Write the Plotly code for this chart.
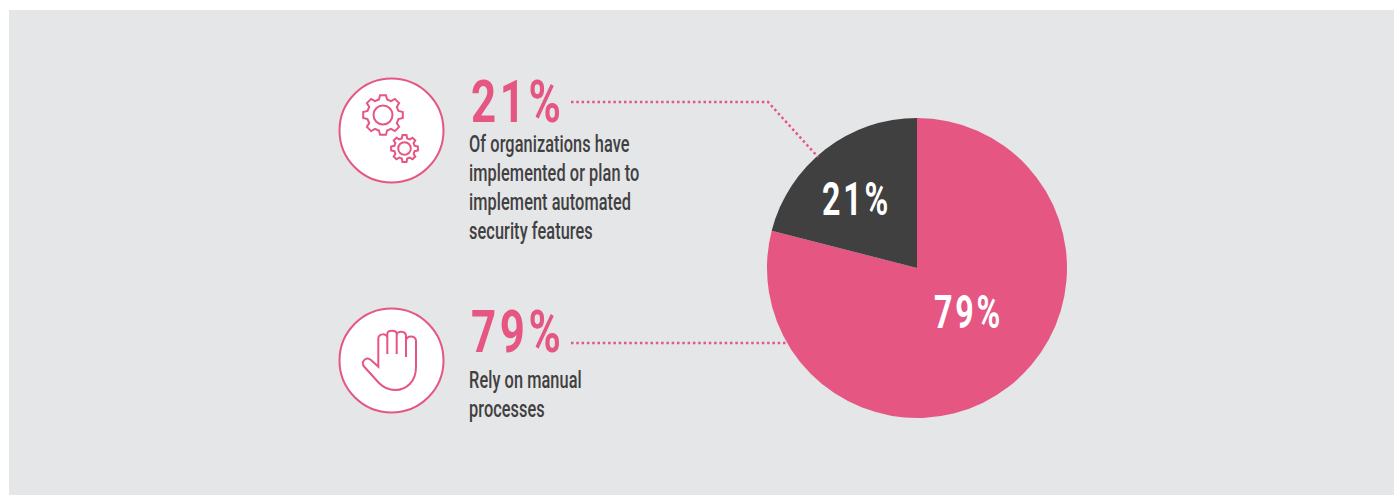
import math
import plotly.graph_objects as go

W, H = 1394, 495
PINK = "#e55683"
DARK = "#404040"
PANEL = "#e5e6e8"
FONT = "Roboto, sans-serif"

# Chart data
slice_labels = ["Rely on manual processes", "Automated security features"]
slice_values = [79, 21]
slice_colors = [PINK, DARK]
caption_21 = ["Of organizations have", "implemented or plan to", "implement automated", "security features"]
caption_79 = ["Rely on manual", "processes"]


def gear_path(cx, cy, r_out, r_in, teeth=8):
    """Closed outline of a cog wheel with flat-topped teeth."""
    pts = []
    step = 2 * math.pi / teeth
    for i in range(teeth):
        a = i * step
        for off, r in ((-0.30, r_in), (-0.17, r_out), (0.17, r_out), (0.30, r_in)):
            t = a + off * step * 1.1
            pts.append((cx + r * math.cos(t), cy + r * math.sin(t)))
    return "M " + " L ".join(f"{x:.1f},{y:.1f}" for x, y in pts) + " Z"


def circle(cx, cy, r, **kw):
    return dict(type="circle", xref="x", yref="y", x0=cx - r, x1=cx + r, y0=cy - r, y1=cy + r, **kw)


def outline(path, width=2):
    return dict(type="path", xref="x", yref="y", path=path, line=dict(color=PINK, width=width))


HAND = (
    "M 378.3,366.7 L 378.3,339 C 378.3,333 387.3,333 387.3,338 "
    "L 387.3,334 C 387.3,329.5 396.7,329.5 396.7,334 "
    "L 396.7,335 C 396.7,330.5 406,330.5 406,336 "
    "L 406,341 C 406,335 416,335 416,341 "
    "L 416,367 C 416,381 407,390 395,390 C 388,390 384,388 379,383 "
    "L 364.5,367 C 360,362 366,356 371,360 Z"
)
FINGER_GAPS = ["M 387.3,338 L 387.3,354", "M 396.7,335 L 396.7,354", "M 406,341 L 406,357"]

shapes = [
    dict(type="rect", xref="x", yref="y", x0=9, x1=W, y0=10, y1=H, fillcolor=PANEL, line_width=0, layer="below"),
    circle(391.5, 130.5, 52, fillcolor="white", line=dict(color=PINK, width=2)),
    circle(391.5, 360.5, 52, fillcolor="white", line=dict(color=PINK, width=2)),
    outline(gear_path(383, 115, 20, 16)),
    circle(383, 115, 9.5, line=dict(color=PINK, width=2)),
    outline(gear_path(404.5, 148.5, 13.5, 10.5)),
    circle(404.5, 148.5, 6.3, line=dict(color=PINK, width=2)),
    outline(HAND),
]
shapes += [outline(p) for p in FINGER_GAPS]
for path in ("M 571,102 L 768,102 L 818,157", "M 571,343 L 788,343"):
    shapes.append(dict(type="path", xref="x", yref="y", path=path,
                       line=dict(color=PINK, width=2.5, dash="2.5px,2.8px")))


def label(x, y, text, size, color, weight=400):
    return dict(x=x, y=y, xref="x", yref="y", text=text, showarrow=False,
                xanchor="left", yanchor="middle",
                font=dict(family=FONT, size=size, color=color, weight=weight))


annotations = [
    label(469, 101, f"{slice_values[1]}%", 60, PINK, 700),
    label(469, 331, f"{slice_values[0]}%", 60, PINK, 700),
    label(820, 199, f"{slice_values[1]}%", 46, "white", 700),
    label(932, 312, f"{slice_values[0]}%", 46, "white", 700),
]
annotations += [label(467, 144 + 29 * i, t, 23.5, DARK, 500) for i, t in enumerate(caption_21)]
annotations += [label(467, 380 + 29 * i, t, 23.5, DARK, 500) for i, t in enumerate(caption_79)]

fig = go.Figure(go.Pie(
    labels=slice_labels,
    values=slice_values,
    sort=False,
    direction="clockwise",
    rotation=0,
    marker=dict(colors=slice_colors, line=dict(width=0)),
    textinfo="none",
    domain=dict(x=[767 / W, 1067 / W], y=[1 - 418 / H, 1 - 118 / H]),
    showlegend=False,
    hoverinfo="label+percent",
))
fig.update_layout(
    width=W, height=H, margin=dict(l=0, r=0, t=0, b=0),
    paper_bgcolor="white", plot_bgcolor="rgba(0,0,0,0)",
    xaxis=dict(range=[0, W], visible=False, fixedrange=True),
    yaxis=dict(range=[H, 0], visible=False, fixedrange=True),
    shapes=shapes, annotations=annotations,
)

# Narrow the lettering into a condensed, tracked-out face; the left edge of each label stays put.
CONDENSE = """
var gd = document.getElementById('{plot_id}');
gd.querySelectorAll('text.annotation-text').forEach(function (t) {
  var size = parseFloat(t.style.fontSize);
  var big = size > 50, mid = size > 40;
  var k = big ? 0.73 : mid ? 0.70 : 0.695;
  var x0 = t.getBBox().x;
  t.style.letterSpacing = big ? '5px' : mid ? '4px' : '0.1px';
  var x1 = t.getBBox().x;
  t.setAttribute('transform', 'translate(' + x0 + ',0) scale(' + k + ',1) translate(' + (-x1) + ',0)');
});
"""
fig.write_html("out.html", config=dict(displayModeBar=False), post_script=CONDENSE)
